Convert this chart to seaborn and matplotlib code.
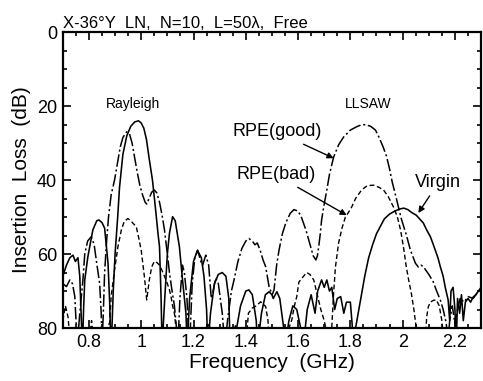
#import library
import pandas as pd
import seaborn as sns
import matplotlib.pyplot as plt
from matplotlib.ticker import MultipleLocator, FixedLocator

#data (frequency in GHz, insertion loss in dB)
virgin_f = [0.700, 0.714, 0.727, 0.739, 0.748, 0.758, 0.765, 0.771, 0.775,
            0.780, 0.784, 0.796, 0.815, 0.830, 0.838, 0.850, 0.860, 0.873, 0.879, 0.884,
            0.888, 0.893, 0.900, 0.910, 0.917, 0.930, 0.945, 0.960, 0.975, 0.990, 1.000,
            1.010, 1.020, 1.030, 1.043, 1.055, 1.065, 1.070, 1.076, 1.080,
            1.090, 1.100, 1.108, 1.120, 1.130, 1.146, 1.158, 1.171, 1.176,
            1.185, 1.200, 1.215, 1.230, 1.240, 1.250, 1.255, 1.265, 1.280, 1.295, 1.310,
            1.324, 1.335, 1.340, 1.360, 1.380, 1.400, 1.412, 1.425, 1.440, 1.445,
            1.460, 1.475, 1.489, 1.500, 1.505, 1.519, 1.530, 1.545, 1.550, 1.565,
            1.580, 1.595, 1.610, 1.620, 1.635, 1.650, 1.665, 1.675, 1.690, 1.700,
            1.710, 1.720, 1.729, 1.740, 1.750, 1.763, 1.775, 1.785, 1.800, 1.808, 1.812,
            1.820, 1.840, 1.855, 1.870, 1.885, 1.900, 1.915, 1.930, 1.950, 1.970, 1.990,
            2.005, 2.020, 2.035, 2.052, 2.065, 2.079, 2.092, 2.106, 2.115, 2.125, 2.135,
            2.144, 2.155, 2.163, 2.174, 2.180, 2.185, 2.193, 2.200, 2.205, 2.210, 2.218,
            2.225, 2.232, 2.240, 2.250, 2.260, 2.270, 2.280, 2.290, 2.300]
virgin_il = [66, 63, 61, 60.3, 62, 61, 66, 78, 85,
             74, 67, 60.7, 53.5, 51, 50.8, 51.5, 53, 62.5, 72.4, 85,
             80, 70, 60, 50, 42, 33, 28, 25.5, 24.3, 24, 24.6,
             26, 29, 34, 40, 48, 55, 58, 72, 85,
             72, 60, 54.4, 49.9, 51, 58, 67, 76, 85,
             72, 62, 59, 61, 66, 75, 85, 76, 68, 65.5, 65,
             66, 72, 85, 82, 74, 70, 69.7, 71, 78, 85,
             76, 71, 70.2, 71, 72, 70.2, 72, 80, 85, 78,
             74, 75, 80, 85, 75, 71, 76, 70, 67, 69,
             67, 70, 69, 75, 72, 71.5, 76, 73, 73, 80, 85,
             80, 72, 66, 61, 57.5, 54.5, 52.5, 50.5, 49.2, 48.4, 47.8,
             47.6, 48, 48.8, 49.5, 50.5, 51.6, 53.5, 55.3, 57, 59, 61,
             63.4, 66, 69, 72.4, 78, 70, 69, 75, 85, 72, 76,
             71, 78, 73, 72, 73, 71.6, 71, 70, 69]

good_f = [0.700, 0.714, 0.727, 0.737, 0.746, 0.752, 0.755, 0.765, 0.777, 0.784,
          0.795, 0.809, 0.820, 0.828, 0.841, 0.847, 0.850,
          0.855, 0.860, 0.868, 0.875, 0.885, 0.898, 0.910, 0.920, 0.930, 0.944,
          0.955, 0.965, 0.975, 0.985, 0.995, 1.005, 1.015, 1.021, 1.030, 1.040,
          1.050, 1.060, 1.070, 1.081, 1.089, 1.100, 1.108, 1.118, 1.127, 1.135,
          1.140, 1.148, 1.158, 1.165, 1.175, 1.180, 1.185, 1.195, 1.205, 1.216,
          1.228, 1.235, 1.247, 1.258, 1.268, 1.275, 1.285, 1.295, 1.310, 1.320,
          1.330, 1.345, 1.355, 1.370, 1.385, 1.400, 1.412, 1.425, 1.435, 1.444,
          1.455, 1.466, 1.476, 1.489, 1.501, 1.508, 1.518, 1.527, 1.540, 1.553,
          1.570, 1.584, 1.597, 1.610, 1.620, 1.630, 1.640, 1.648, 1.658, 1.668,
          1.674, 1.679, 1.685, 1.690, 1.700, 1.710, 1.720, 1.736, 1.755, 1.774,
          1.800, 1.824, 1.845, 1.862, 1.878, 1.896, 1.910, 1.925, 1.938, 1.950,
          1.960, 1.976, 1.995, 2.014, 2.030, 2.049, 2.060, 2.070, 2.079, 2.090,
          2.100, 2.117, 2.130, 2.144, 2.155, 2.167, 2.172, 2.180, 2.190, 2.200,
          2.210, 2.220, 2.235, 2.250, 2.270, 2.285, 2.300]
good_il = [68, 68.8, 67, 68, 71.5, 80, 85, 76, 67, 60,
           56.5, 55.3, 57.5, 61.6, 68, 76, 85,
           76, 65, 56, 50, 44, 40, 35, 31, 28.5, 27,
           27.5, 30, 34, 38, 41.5, 44, 46, 46.5, 45, 43.3,
           42.7, 43.5, 46, 50, 53.5, 60, 65, 70, 74, 80,
           85, 72, 63, 65, 72, 80, 85, 68, 61, 59,
           62, 63, 60.3, 63, 72, 70, 66.5, 68, 76, 85,
           78, 70, 67, 62, 58.5, 56.5, 55.8, 56.5, 57.5, 57,
           59, 61.6, 63.4, 68.8, 71, 69.7, 63, 59, 54.5, 51.6,
           49, 48, 48.3, 49.5, 51.5, 53.5, 56, 58, 60.5, 61.6,
           60.5, 58, 54.5, 50.8, 46.5, 42.7, 38.5, 33.8, 30.5, 28.4,
           26.5, 25.6, 25, 25.1, 25.5, 26.5, 28.5, 31, 33.5, 37,
           40.5, 45, 50.5, 54.8, 59, 62.5, 63.5, 63, 63.4, 64.5,
           65.5, 67.5, 70, 72.4, 75, 78.7, 85, 78, 74, 79,
           75, 72, 73, 71.5, 72, 70.5, 70.5]

bad_f = [0.700, 0.710, 0.720, 0.730, 0.750, 0.760, 0.770, 0.800, 0.810, 0.820,
         0.860, 0.870, 0.879, 0.885, 0.898, 0.911, 0.924, 0.935, 0.949, 0.960,
         0.970, 0.981, 0.990, 1.000, 1.012, 1.021, 1.031, 1.040, 1.050, 1.060,
         1.070, 1.080, 1.089, 1.100, 1.108, 1.114, 1.120, 1.127, 1.133, 1.140,
         1.250, 1.260, 1.270, 1.350, 1.360, 1.370, 1.400, 1.410, 1.425, 1.440,
         1.457, 1.466, 1.476, 1.485, 1.490, 1.550, 1.565, 1.576, 1.586, 1.595,
         1.603, 1.615, 1.633, 1.645, 1.660, 1.670, 1.687, 1.700, 1.706, 1.712,
         1.720, 1.729, 1.736, 1.743, 1.755, 1.768, 1.781, 1.795, 1.805, 1.820,
         1.843, 1.865, 1.889, 1.910, 1.927, 1.945, 1.965, 1.980, 1.992, 2.003,
         2.014, 2.023, 2.033, 2.043, 2.052, 2.060, 2.085, 2.092, 2.098, 2.106,
         2.118, 2.129, 2.140, 2.150, 2.160, 2.300]
bad_il = [78, 74, 77, 85, 85, 79, 85, 85, 78, 85,
          85, 80, 78.6, 71.5, 64.3, 58, 53.5, 51.2, 50.4, 51,
          51.8, 52.6, 55.5, 59, 66, 72.4, 67, 63.5, 62, 62.3,
          63, 64.5, 66, 68, 69.7, 71.5, 74, 76, 80, 85,
          85, 79, 85, 85, 79, 85, 85, 76, 74.6, 74,
          72.9, 73.5, 74.2, 78, 85, 85, 80, 77.8, 74, 71.5,
          67.6, 66.5, 65, 65.5, 67, 70, 75, 78, 80, 85,
          85, 79.7, 70.5, 63.5, 57, 53, 50, 48.5, 47.3, 45,
          42.7, 41.5, 41.4, 42, 42.7, 44.5, 47.3, 50, 53.5, 58,
          63.5, 67, 70.5, 75, 80, 85, 85, 77, 74.3, 73,
          72.5, 72.4, 74, 78, 85, 85]

xtick_vals = [0.8, 1.0, 1.2, 1.4, 1.6, 1.8, 2.0, 2.2]
xtick_labels = ['0.8', '1', '1.2', '1.4', '1.6', '1.8', '2', '2.2']
ytick_vals = [0, 20, 40, 60, 80]

virgin = pd.DataFrame({'f': virgin_f, 'il': virgin_il})
good = pd.DataFrame({'f': good_f, 'il': good_il})
bad = pd.DataFrame({'f': bad_f, 'il': bad_il})

#style
sns.set_style('ticks', {'axes.edgecolor': 'black', 'text.color': 'black',
                        'xtick.color': 'black', 'ytick.color': 'black',
                        'axes.labelcolor': 'black'})
plt.rcParams['font.family'] = ['Liberation Sans', 'DejaVu Sans']
plt.rcParams['lines.scale_dashes'] = False

fig = plt.figure(figsize = (4.83, 3.81), dpi = 100)
ax = fig.add_axes([0.130, 0.139, 0.866, 0.777])

#curves
sns.lineplot(data = virgin, x = 'f', y = 'il', ax = ax, color = 'black', lw = 1.15,
             sort = False, estimator = None)
sns.lineplot(data = good, x = 'f', y = 'il', ax = ax, color = 'black', lw = 1.1,
             sort = False, estimator = None)
ax.lines[-1].set_dashes((9, 2, 1.5, 2))
sns.lineplot(data = bad, x = 'f', y = 'il', ax = ax, color = 'black', lw = 1.0,
             sort = False, estimator = None)
ax.lines[-1].set_dashes((3.5, 2))

#axes
ax.set_xlim(0.7, 2.3)
ax.set_ylim(80, 0)
ax.xaxis.set_major_locator(FixedLocator(xtick_vals))
ax.set_xticklabels(xtick_labels)
ax.xaxis.set_minor_locator(MultipleLocator(0.05))
ax.yaxis.set_major_locator(FixedLocator(ytick_vals))
ax.yaxis.set_minor_locator(MultipleLocator(5))
ax.tick_params(which = 'both', direction = 'in', top = True, right = True,
               labelsize = 13, width = 1.2, pad = 4)
ax.tick_params(which = 'major', length = 6)
ax.tick_params(which = 'minor', length = 3)
for s in ax.spines.values():
    s.set_linewidth(1.6)

ax.set_xlabel('Frequency  (GHz)', fontsize = 15, labelpad = 2)
ax.set_ylabel('Insertion  Loss  (dB)', fontsize = 15, labelpad = 4)
ax.set_title('X-36\u00b0Y  LN,  N=10,  L=50\u03bb,  Free', loc = 'left', fontsize = 12, pad = 3)

#annotations
arrow = dict(arrowstyle = '-|>', color = 'black', lw = 1, shrinkA = 1, shrinkB = 0,
             mutation_scale = 9)
ax.text(0.97, 19.5, 'Rayleigh', fontsize = 10, ha = 'center', va = 'center')
ax.text(1.87, 19.5, 'LLSAW', fontsize = 10, ha = 'center', va = 'center')
ax.annotate('RPE(good)', xy = (1.736, 34.1), xytext = (1.519, 27.0), fontsize = 13,
            ha = 'center', va = 'center', arrowprops = arrow)
ax.annotate('RPE(bad)', xy = (1.786, 49.5), xytext = (1.515, 38.6), fontsize = 13,
            ha = 'center', va = 'center', arrowprops = arrow)
ax.annotate('Virgin', xy = (2.06, 48.9), xytext = (2.136, 40.8), fontsize = 13,
            ha = 'center', va = 'center', arrowprops = arrow)

plt.savefig('out.png', dpi = 100)
